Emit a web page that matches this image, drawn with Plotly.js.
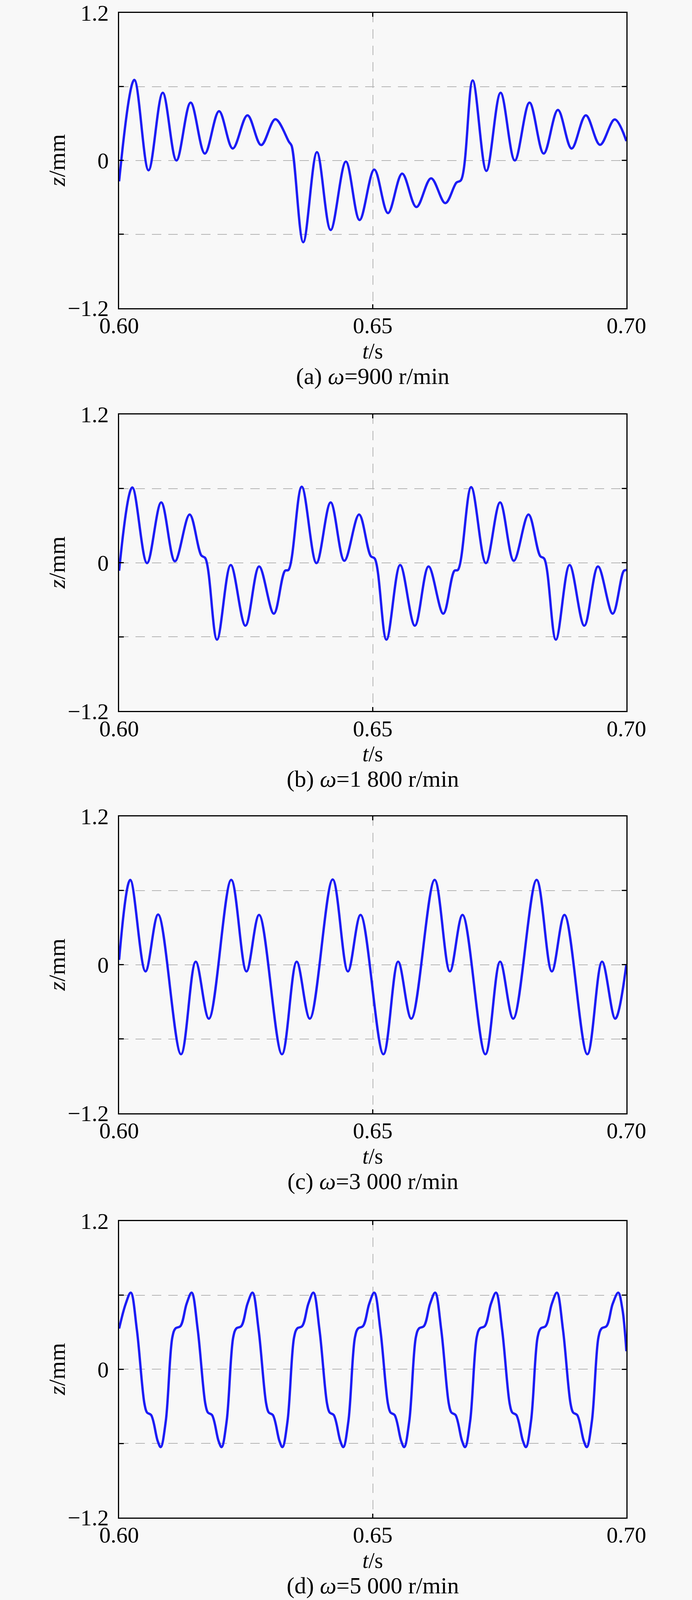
<!DOCTYPE html>
<html>
<head>
<meta charset="utf-8">
<script src="https://cdn.plot.ly/plotly-3.0.1.min.js"></script>
<style>
  html, body { margin: 0; padding: 0; background: #f8f8f8; overflow: hidden; }
  #chart { width: 1772px; }
</style>
</head>
<body>
<div id="chart"></div>
<script>
// ---------------- data ----------------
const xTickVals = [0.60, 0.65, 0.70];
const xTickText = ['0.60', '0.65', '0.70'];
const yTickVals = [-1.2, -0.6, 0, 0.6, 1.2];
const yTickText = ['\u22121.2', '', '0', '', '1.2'];
const captions = [
  '(a) <i>\u03c9</i>=900 r/min',
  '(b) <i>\u03c9</i>=1 800 r/min',
  '(c) <i>\u03c9</i>=3 000 r/min',
  '(d) <i>\u03c9</i>=5 000 r/min'
];

// (a) ω = 900 r/min
const tA = [0.6000, 0.6030, 0.6058, 0.6086, 0.6113, 0.6141, 0.6169, 0.6197, 0.6224, 0.6253,
  0.6280, 0.6308, 0.6335, 0.6340, 0.6363, 0.6390, 0.6417, 0.6447, 0.6474, 0.6503,
  0.6530, 0.6558, 0.6586, 0.6615, 0.6643, 0.6665, 0.6674, 0.6697, 0.6724, 0.6752,
  0.6780, 0.6809, 0.6837, 0.6865, 0.6892, 0.6920, 0.6948, 0.6977, 0.7000];
const zA = [-0.17, 0.655, -0.08, 0.55, 0.0, 0.47, 0.056, 0.40, 0.097, 0.367,
  0.125, 0.335, 0.15, 0.12, -0.665, 0.067, -0.565, -0.01, -0.484, -0.075,
  -0.428, -0.107, -0.379, -0.145, -0.347, -0.18, -0.16, 0.65, -0.085, 0.55,
  0.0, 0.47, 0.056, 0.41, 0.097, 0.367, 0.127, 0.333, 0.157];

// (b) ω = 1 800 r/min
const tB = [0.6000, 0.6026, 0.6055, 0.6083, 0.6110, 0.6139, 0.6162, 0.6170, 0.6193, 0.6220,
  0.6249, 0.6276, 0.6305, 0.6327, 0.6334,
  0.6360, 0.6389, 0.6417, 0.6444, 0.6473, 0.6496, 0.6504, 0.6527, 0.6554,
  0.6583, 0.6610, 0.6639, 0.6661, 0.6668,
  0.6694, 0.6723, 0.6751, 0.6778, 0.6807, 0.6830, 0.6838, 0.6861, 0.6888,
  0.6917, 0.6944, 0.6973, 0.6995, 0.7000];
const zB = [-0.065, 0.608, -0.003, 0.487, 0.012, 0.389, 0.059, 0.036, -0.622, -0.019,
  -0.509, -0.031, -0.412, -0.065, -0.058,
  0.614, -0.003, 0.487, 0.016, 0.389, 0.054, 0.033, -0.622, -0.019,
  -0.509, -0.031, -0.412, -0.065, -0.058,
  0.611, -0.003, 0.487, 0.016, 0.389, 0.054, 0.033, -0.622, -0.019,
  -0.509, -0.031, -0.412, -0.065, -0.06];

// (c) ω = 3 000 r/min
const tC = [0.6000, 0.6022, 0.6052, 0.6077, 0.6122, 0.6151, 0.6177,
  0.6221, 0.6251, 0.6276, 0.6321, 0.6350, 0.6376,
  0.6421, 0.6451, 0.6476, 0.6521, 0.6550, 0.6576,
  0.6622, 0.6652, 0.6677, 0.6722, 0.6751, 0.6777,
  0.6823, 0.6853, 0.6878, 0.6923, 0.6952, 0.6978, 0.7000];
const zC = [0.04, 0.687, -0.053, 0.406, -0.723, 0.025, -0.435,
  0.687, -0.053, 0.403, -0.723, 0.025, -0.435,
  0.690, -0.053, 0.403, -0.723, 0.025, -0.435,
  0.687, -0.053, 0.403, -0.723, 0.025, -0.435,
  0.687, -0.053, 0.403, -0.723, 0.025, -0.435, 0.005];

// (d) ω = 5 000 r/min
const tD = [0.6000, 0.6013,
  0.6023, 0.6035, 0.6050, 0.6055, 0.6063, 0.6076, 0.6082, 0.6092, 0.6105, 0.6111, 0.6121, 0.6133,
  0.6143, 0.6155, 0.6170, 0.6175, 0.6183, 0.6196, 0.6202, 0.6212, 0.6225, 0.6231, 0.6241, 0.6253,
  0.6263, 0.6275, 0.6290, 0.6295, 0.6303, 0.6316, 0.6322, 0.6332, 0.6345, 0.6351, 0.6361, 0.6373,
  0.6383, 0.6395, 0.6410, 0.6415, 0.6423, 0.6436, 0.6442, 0.6452, 0.6465, 0.6471, 0.6481, 0.6493,
  0.6503, 0.6515, 0.6530, 0.6535, 0.6543, 0.6556, 0.6562, 0.6572, 0.6585, 0.6591, 0.6601, 0.6613,
  0.6623, 0.6635, 0.6650, 0.6655, 0.6663, 0.6676, 0.6682, 0.6692, 0.6705, 0.6711, 0.6721, 0.6733,
  0.6743, 0.6755, 0.6770, 0.6775, 0.6783, 0.6796, 0.6802, 0.6812, 0.6825, 0.6831, 0.6841, 0.6853,
  0.6863, 0.6875, 0.6890, 0.6895, 0.6903, 0.6916, 0.6922, 0.6932, 0.6945, 0.6951, 0.6961, 0.6973,
  0.6984, 0.6992, 0.7000];
const zD = [0.33, 0.53,
  0.62, 0.32, -0.28, -0.35, -0.37, -0.58, -0.63, -0.42, 0.26, 0.33, 0.35, 0.53,
  0.62, 0.32, -0.28, -0.35, -0.37, -0.58, -0.63, -0.42, 0.26, 0.33, 0.35, 0.53,
  0.62, 0.32, -0.28, -0.35, -0.37, -0.58, -0.63, -0.42, 0.26, 0.33, 0.35, 0.53,
  0.62, 0.32, -0.28, -0.35, -0.37, -0.58, -0.63, -0.42, 0.26, 0.33, 0.35, 0.53,
  0.62, 0.32, -0.28, -0.35, -0.37, -0.58, -0.63, -0.42, 0.26, 0.33, 0.35, 0.53,
  0.62, 0.32, -0.28, -0.35, -0.37, -0.58, -0.63, -0.42, 0.26, 0.33, 0.35, 0.53,
  0.62, 0.32, -0.28, -0.35, -0.37, -0.58, -0.63, -0.42, 0.26, 0.33, 0.35, 0.53,
  0.62, 0.32, -0.28, -0.35, -0.37, -0.58, -0.63, -0.42, 0.26, 0.33, 0.35, 0.53,
  0.62, 0.49, 0.146];

// ---------------- layout ----------------
// The reference is 1772 x 5121; the window may be shorter, so every vertical
// position is scaled to the height that is actually available.
const W = 1772, REF_H = 5121;
const H = Math.min(REF_H, window.innerHeight || REF_H);
const S = H / REF_H;
document.getElementById('chart').style.height = H + 'px';

const FONT = '"Liberation Serif", "Times New Roman", Times, serif';
const TICK_SIZE = 58, TITLE_SIZE = 56, CAPTION_SIZE = 60, YTITLE_SIZE = 60;
const plotLeft = 305, plotRight = 1604;
const plotTops = [41, 1326, 2613, 3908].map(v => v * S);
const plotBottoms = [986, 2276, 3563, 4857].map(v => v * S);
const series = [[tA, zA], [tB, zB], [tC, zC], [tD, zD]];
const py = v => 1 - v / H;
const px = v => v / W;

const data = [];
const layout = {
  width: W, height: H,
  margin: {l: 0, r: 0, t: 0, b: 0},
  paper_bgcolor: '#f8f8f8',
  plot_bgcolor: '#f8f8f8',
  showlegend: false,
  font: {family: FONT, color: '#000'},
  annotations: []
};

const axisCommon = {
  ticks: 'inside', ticklen: 12, tickwidth: 3, tickcolor: '#000',
  showline: true, linecolor: '#000', linewidth: 3, mirror: 'ticks',
  showgrid: true, gridcolor: '#b4b4b4', gridwidth: 2, griddash: '24px,18px',
  zeroline: false, ticklabeloverflow: 'allow',
  tickfont: {family: FONT, size: TICK_SIZE, color: '#000'}
};

series.forEach((s, i) => {
  const n = i === 0 ? '' : String(i + 1);
  data.push({
    x: s[0], y: s[1], type: 'scatter', mode: 'lines',
    xaxis: 'x' + n, yaxis: 'y' + n,
    line: {color: '#1c1cf5', width: 6, shape: 'spline', smoothing: 1},
    hoverinfo: 'skip'
  });
  layout['xaxis' + n] = Object.assign({}, axisCommon, {
    domain: [px(plotLeft), px(plotRight)],
    anchor: 'y' + n,
    range: [0.6, 0.7],
    tickmode: 'array', tickvals: xTickVals, ticktext: xTickText,
    ticklen: 10,
    ticklabelstandoff: -8
  });
  layout['yaxis' + n] = Object.assign({}, axisCommon, {
    domain: [py(plotBottoms[i]), py(plotTops[i])],
    anchor: 'x' + n,
    range: [-1.2, 1.2],
    tickmode: 'array', tickvals: yTickVals, ticktext: yTickText,
    ticklabelstandoff: 12
  });
  const midX = px((plotLeft + plotRight) / 2);
  const midY = py((plotTops[i] + plotBottoms[i]) / 2);
  layout.annotations.push({
    xref: 'paper', yref: 'paper', x: midX, y: py(plotBottoms[i] + 110),
    xanchor: 'center', yanchor: 'middle', showarrow: false,
    text: '<i>t</i>/s', font: {family: FONT, size: TITLE_SIZE, color: '#000'}
  });
  layout.annotations.push({
    xref: 'paper', yref: 'paper', x: midX, y: py(plotBottoms[i] + 174),
    xanchor: 'center', yanchor: 'middle', showarrow: false,
    text: captions[i], font: {family: FONT, size: CAPTION_SIZE, color: '#000'}
  });
  layout.annotations.push({
    xref: 'paper', yref: 'paper', x: px(146), y: midY,
    xanchor: 'center', yanchor: 'middle', showarrow: false, textangle: -90,
    text: '<i>z</i>/mm', font: {family: FONT, size: YTITLE_SIZE, color: '#000'}
  });
});

Plotly.newPlot('chart', data, layout, {displayModeBar: false, staticPlot: true});
</script>
</body>
</html>
